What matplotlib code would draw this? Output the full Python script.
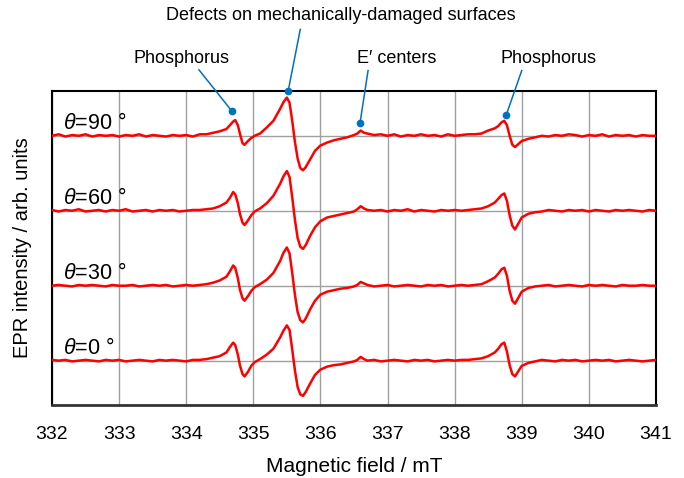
import matplotlib
matplotlib.use('Agg')
import matplotlib.pyplot as plt
import numpy as np

plt.rcParams['font.family'] = ['Liberation Sans', 'DejaVu Sans']
plt.rcParams['mathtext.fontset'] = 'custom'
plt.rcParams['mathtext.it'] = 'Liberation Sans:italic'
plt.rcParams['mathtext.rm'] = 'Liberation Sans'

# Magnetic field points (mT)
field = [
    332.0, 332.1, 332.2, 332.3, 332.4, 332.5, 332.6, 332.7, 332.8, 332.9,
    333.0, 333.1, 333.2, 333.3, 333.4, 333.5, 333.6, 333.7, 333.8, 333.9,
    334.0, 334.1, 334.2, 334.3, 334.4, 334.5, 334.6, 334.65, 334.7, 334.73,
    334.77, 334.8, 334.84, 334.87, 334.92, 334.97, 335.02, 335.1, 335.2, 335.3,
    335.4, 335.45, 335.5, 335.54, 335.58, 335.62, 335.66, 335.7, 335.74, 335.78,
    335.85, 335.92, 336.0, 336.1, 336.2, 336.3, 336.4, 336.5, 336.55, 336.6,
    336.65, 336.7, 336.8, 336.9, 337.0, 337.1, 337.2, 337.3, 337.4, 337.5,
    337.6, 337.7, 337.8, 337.9, 338.0, 338.1, 338.2, 338.3, 338.4, 338.5,
    338.6, 338.65, 338.7, 338.74, 338.78, 338.82, 338.86, 338.9, 338.95, 339.0,
    339.1, 339.2, 339.3, 339.4, 339.5, 339.6, 339.7, 339.8, 339.9, 340.0,
    340.1, 340.2, 340.3, 340.4, 340.5, 340.6, 340.7, 340.8, 340.9, 341.0,
]

# EPR intensity (arb. units), one list per angle
epr_90 = [
    0.00, 0.02, -0.01, 0.01, 0.00, 0.02, -0.01, 0.01, 0.00, 0.01,
    -0.01, 0.01, 0.00, 0.02, -0.01, 0.01, 0.00, -0.01, 0.01, 0.00,
    0.01, -0.01, 0.02, 0.02, 0.04, 0.06, 0.09, 0.14, 0.19, 0.21,
    0.14, 0.03, -0.10, -0.12, -0.07, -0.03, 0.00, 0.03, 0.11, 0.20,
    0.36, 0.45, 0.51, 0.44, 0.20, -0.08, -0.30, -0.43, -0.46, -0.42,
    -0.31, -0.20, -0.13, -0.09, -0.06, -0.04, -0.02, 0.01, 0.03, 0.07,
    0.04, 0.03, 0.01, 0.02, 0.00, 0.02, -0.01, 0.01, 0.00, 0.02,
    0.00, 0.01, -0.01, 0.02, 0.00, 0.01, 0.02, 0.02, 0.03, 0.07,
    0.10, 0.13, 0.18, 0.20, 0.14, 0.00, -0.12, -0.15, -0.11, -0.07,
    -0.04, -0.02, 0.00, -0.01, 0.01, 0.00, 0.02, 0.01, -0.01, 0.01,
    0.00, 0.02, -0.01, 0.01, 0.00, 0.01, -0.01, 0.01, 0.00, 0.00,
]
epr_60 = [
    0.01, -0.01, 0.01, 0.00, 0.02, -0.01, 0.00, 0.01, -0.01, 0.01,
    0.00, 0.02, -0.01, 0.00, 0.01, -0.01, 0.01, 0.00, 0.01, -0.01,
    0.00, 0.01, 0.01, 0.02, 0.03, 0.06, 0.11, 0.17, 0.25, 0.22,
    0.10, -0.04, -0.16, -0.19, -0.13, -0.06, -0.01, 0.03, 0.10, 0.20,
    0.36, 0.46, 0.53, 0.45, 0.18, -0.12, -0.36, -0.48, -0.51, -0.46,
    -0.33, -0.22, -0.14, -0.09, -0.07, -0.05, -0.03, -0.01, 0.02, 0.06,
    0.03, 0.01, 0.00, 0.01, -0.01, 0.01, 0.00, 0.02, -0.01, 0.01,
    0.00, -0.01, 0.01, 0.00, 0.01, 0.00, 0.01, 0.02, 0.03, 0.06,
    0.11, 0.16, 0.21, 0.23, 0.13, -0.06, -0.20, -0.25, -0.17, -0.09,
    -0.04, -0.02, -0.01, 0.01, 0.00, -0.01, 0.01, 0.00, 0.01, -0.01,
    0.01, 0.00, -0.01, 0.01, 0.00, 0.01, 0.00, -0.01, 0.01, 0.00,
]
epr_30 = [
    0.00, 0.01, 0.00, -0.01, 0.01, 0.00, 0.01, 0.00, -0.01, 0.01,
    0.00, 0.00, 0.01, -0.01, 0.00, 0.01, 0.00, 0.01, -0.01, 0.00,
    0.01, 0.00, 0.01, 0.02, 0.04, 0.07, 0.12, 0.19, 0.27, 0.24,
    0.10, -0.05, -0.17, -0.20, -0.14, -0.07, -0.02, 0.02, 0.08, 0.17,
    0.33, 0.44, 0.51, 0.43, 0.17, -0.12, -0.35, -0.46, -0.49, -0.44,
    -0.31, -0.20, -0.12, -0.08, -0.06, -0.04, -0.03, -0.01, 0.01, 0.05,
    0.03, 0.01, -0.01, 0.00, 0.01, -0.01, 0.00, 0.01, 0.00, -0.01,
    0.01, 0.00, 0.01, -0.01, 0.00, 0.01, 0.00, 0.01, 0.02, 0.06,
    0.11, 0.16, 0.22, 0.24, 0.13, -0.07, -0.20, -0.24, -0.16, -0.08,
    -0.03, -0.01, 0.00, 0.01, -0.01, 0.00, 0.01, 0.00, -0.01, 0.01,
    0.00, 0.01, 0.00, -0.01, 0.01, 0.00, 0.00, 0.01, 0.00, 0.00,
]
epr_0 = [
    0.01, 0.00, 0.01, -0.01, 0.00, 0.01, 0.00, -0.01, 0.01, 0.00,
    0.01, -0.01, 0.00, 0.01, 0.00, -0.01, 0.01, 0.00, 0.01, 0.00,
    -0.01, 0.01, 0.01, 0.02, 0.04, 0.06, 0.11, 0.18, 0.24, 0.21,
    0.08, -0.06, -0.18, -0.21, -0.15, -0.07, -0.02, 0.02, 0.08, 0.16,
    0.31, 0.40, 0.47, 0.41, 0.15, -0.13, -0.35, -0.45, -0.47, -0.42,
    -0.30, -0.19, -0.12, -0.08, -0.06, -0.05, -0.03, -0.01, 0.01, 0.05,
    0.02, 0.00, 0.01, -0.01, 0.00, 0.01, 0.00, -0.01, 0.01, 0.00,
    0.01, -0.01, 0.00, 0.01, 0.00, 0.01, 0.01, 0.02, 0.03, 0.06,
    0.11, 0.16, 0.22, 0.24, 0.12, -0.06, -0.18, -0.21, -0.14, -0.07,
    -0.03, -0.01, 0.01, 0.00, -0.01, 0.01, 0.00, 0.01, -0.01, 0.00,
    0.01, 0.00, 0.01, -0.01, 0.00, 0.01, 0.00, -0.01, 0.00, 0.01,
]

angles = ['0', '30', '60', '90']
spectra = [epr_0, epr_30, epr_60, epr_90]
field_ticks = [332, 333, 334, 335, 336, 337, 338, 339, 340, 341]

# annotation labels: (text, dot x, dot y, line end x, line end y, text x, text y)
notes = [
    ('Phosphorus', 334.68, 3.33, 334.19, 3.88, 333.93, 4.03),
    ('Defects on mechanically-damaged surfaces', 335.52, 3.60, 335.70, 4.42, 336.30, 4.61),
    ('E\u2032 centers', 336.59, 3.17, 336.71, 3.87, 337.14, 4.03),
    ('Phosphorus', 338.77, 3.28, 339.00, 3.87, 339.40, 4.03),
]

fig = plt.figure(figsize=(6.84, 4.78), dpi=100)
ax = fig.add_axes([0.076, 0.153, 0.883, 0.657])

for k, (ang, vals) in enumerate(zip(angles, spectra)):
    ax.plot(field, np.array(vals) + k, color='#ff0000', lw=1.8, zorder=3)
    ax.text(332.17, k + 0.09, r'$\theta$' + '=' + ang + ' \u00b0',
            fontsize=15.5, ha='left', va='baseline')

blue = '#0070c0'
for txt, dx, dy, lx, ly, tx, ty in notes:
    ax.plot([dx, lx], [dy, ly], color=blue, lw=1.1, clip_on=False, zorder=4)
    ax.plot(dx, dy, 'o', color=blue, ms=4.5, clip_on=False, zorder=4)
    ax.text(tx, ty, txt, fontsize=13, ha='center', va='center')

ax.set_xlim(332, 341)
ax.set_ylim(-0.59, 3.6)
ax.set_xticks(field_ticks)
ax.set_yticks([0, 1, 2, 3])
ax.set_yticklabels([])
ax.tick_params(length=0, labelsize=14, pad=15)
ax.grid(True, color='#a0a0a0', lw=1)

for s in ax.spines.values():
    s.set_color('black')
    s.set_linewidth(1.5)
ax.spines['bottom'].set_color('#333333')
ax.spines['bottom'].set_linewidth(2)

ax.set_xlabel('Magnetic field / mT', fontsize=15, labelpad=10)
ax.set_ylabel('EPR intensity / arb. units', fontsize=14.5)
ax.yaxis.set_label_coords(-0.033, 0.5)

plt.savefig('out.png', dpi=100)
